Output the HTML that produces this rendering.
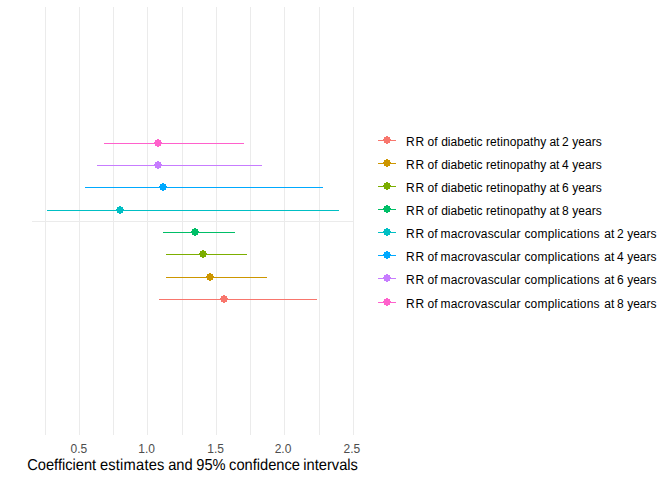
<!DOCTYPE html>
<html><head><meta charset="utf-8"><style>
html,body{margin:0;padding:0;background:#fff;width:672px;height:480px;overflow:hidden}
svg{position:absolute;left:0;top:0}
text{font-family:"Liberation Sans",sans-serif}
</style></head><body>
<svg width="672" height="480" viewBox="0 0 672 480">
<g shape-rendering="crispEdges">
<g fill="#EBEBEB"><rect x="45" y="7" width="1" height="428"/><rect x="79" y="7" width="1" height="428"/><rect x="113" y="7" width="1" height="428"/><rect x="147" y="7" width="1" height="428"/><rect x="182" y="7" width="1" height="428"/><rect x="216" y="7" width="1" height="428"/><rect x="250" y="7" width="1" height="428"/><rect x="284" y="7" width="1" height="428"/><rect x="319" y="7" width="1" height="428"/><rect x="353" y="7" width="1" height="428"/><rect x="32" y="221" width="322" height="1"/></g><rect x="104" y="143" width="140" height="1" fill="#FF61CC"/><g fill="#FF61CC"><rect x="157" y="139" width="2" height="1"/><rect x="155" y="140" width="6" height="6"/><rect x="154" y="142" width="8" height="2"/><rect x="157" y="146" width="2" height="1"/></g><rect x="97" y="165" width="165" height="1" fill="#C77CFF"/><g fill="#C77CFF"><rect x="157" y="161" width="2" height="1"/><rect x="155" y="162" width="6" height="6"/><rect x="154" y="164" width="8" height="2"/><rect x="157" y="168" width="2" height="1"/></g><rect x="85" y="187" width="238" height="1" fill="#00A9FF"/><g fill="#00A9FF"><rect x="162" y="183" width="2" height="1"/><rect x="160" y="184" width="6" height="6"/><rect x="159" y="186" width="8" height="2"/><rect x="162" y="190" width="2" height="1"/></g><rect x="47" y="210" width="292" height="1" fill="#00BFC4"/><g fill="#00BFC4"><rect x="119" y="206" width="2" height="1"/><rect x="117" y="207" width="6" height="6"/><rect x="116" y="209" width="8" height="2"/><rect x="119" y="213" width="2" height="1"/></g><rect x="163" y="232" width="72" height="1" fill="#00BE67"/><g fill="#00BE67"><rect x="194" y="228" width="2" height="1"/><rect x="192" y="229" width="6" height="6"/><rect x="191" y="231" width="8" height="2"/><rect x="194" y="235" width="2" height="1"/></g><rect x="166" y="254" width="81" height="1" fill="#7CAE00"/><g fill="#7CAE00"><rect x="202" y="250" width="2" height="1"/><rect x="200" y="251" width="6" height="6"/><rect x="199" y="253" width="8" height="2"/><rect x="202" y="257" width="2" height="1"/></g><rect x="166" y="277" width="101" height="1" fill="#CD9600"/><g fill="#CD9600"><rect x="209" y="273" width="2" height="1"/><rect x="207" y="274" width="6" height="6"/><rect x="206" y="276" width="8" height="2"/><rect x="209" y="280" width="2" height="1"/></g><rect x="159" y="299" width="158" height="1" fill="#F8766D"/><g fill="#F8766D"><rect x="223" y="295" width="2" height="1"/><rect x="221" y="296" width="6" height="6"/><rect x="220" y="298" width="8" height="2"/><rect x="223" y="302" width="2" height="1"/></g><rect x="378" y="140" width="18" height="1" fill="#F8766D"/><g fill="#F8766D"><rect x="386" y="136" width="2" height="1"/><rect x="384" y="137" width="6" height="6"/><rect x="383" y="139" width="8" height="2"/><rect x="386" y="143" width="2" height="1"/></g><rect x="378" y="163" width="18" height="1" fill="#CD9600"/><g fill="#CD9600"><rect x="386" y="159" width="2" height="1"/><rect x="384" y="160" width="6" height="6"/><rect x="383" y="162" width="8" height="2"/><rect x="386" y="166" width="2" height="1"/></g><rect x="378" y="186" width="18" height="1" fill="#7CAE00"/><g fill="#7CAE00"><rect x="386" y="182" width="2" height="1"/><rect x="384" y="183" width="6" height="6"/><rect x="383" y="185" width="8" height="2"/><rect x="386" y="189" width="2" height="1"/></g><rect x="378" y="209" width="18" height="1" fill="#00BE67"/><g fill="#00BE67"><rect x="386" y="205" width="2" height="1"/><rect x="384" y="206" width="6" height="6"/><rect x="383" y="208" width="8" height="2"/><rect x="386" y="212" width="2" height="1"/></g><rect x="378" y="232" width="18" height="1" fill="#00BFC4"/><g fill="#00BFC4"><rect x="386" y="228" width="2" height="1"/><rect x="384" y="229" width="6" height="6"/><rect x="383" y="231" width="8" height="2"/><rect x="386" y="235" width="2" height="1"/></g><rect x="378" y="255" width="18" height="1" fill="#00A9FF"/><g fill="#00A9FF"><rect x="386" y="251" width="2" height="1"/><rect x="384" y="252" width="6" height="6"/><rect x="383" y="254" width="8" height="2"/><rect x="386" y="258" width="2" height="1"/></g><rect x="378" y="278" width="18" height="1" fill="#C77CFF"/><g fill="#C77CFF"><rect x="386" y="274" width="2" height="1"/><rect x="384" y="275" width="6" height="6"/><rect x="383" y="277" width="8" height="2"/><rect x="386" y="281" width="2" height="1"/></g><rect x="378" y="302" width="18" height="1" fill="#FF61CC"/><g fill="#FF61CC"><rect x="386" y="298" width="2" height="1"/><rect x="384" y="299" width="6" height="6"/><rect x="383" y="301" width="8" height="2"/><rect x="386" y="305" width="2" height="1"/></g>
</g>
<text y="146" font-size="12" fill="#000"><tspan x="406.0" textLength="18.2" lengthAdjust="spacing">RR</tspan><tspan x="427.5">of</tspan><tspan x="441.2">diabetic</tspan><tspan x="486.0" textLength="60.2" lengthAdjust="spacing">retinopathy</tspan><tspan x="549.4">at</tspan><tspan x="562.1">2</tspan><tspan x="572.3">years</tspan></text><text y="169" font-size="12" fill="#000"><tspan x="406.0" textLength="18.2" lengthAdjust="spacing">RR</tspan><tspan x="427.5">of</tspan><tspan x="441.2">diabetic</tspan><tspan x="486.0" textLength="60.2" lengthAdjust="spacing">retinopathy</tspan><tspan x="549.4">at</tspan><tspan x="562.1">4</tspan><tspan x="572.3">years</tspan></text><text y="192" font-size="12" fill="#000"><tspan x="406.0" textLength="18.2" lengthAdjust="spacing">RR</tspan><tspan x="427.5">of</tspan><tspan x="441.2">diabetic</tspan><tspan x="486.0" textLength="60.2" lengthAdjust="spacing">retinopathy</tspan><tspan x="549.4">at</tspan><tspan x="562.1">6</tspan><tspan x="572.3">years</tspan></text><text y="215" font-size="12" fill="#000"><tspan x="406.0" textLength="18.2" lengthAdjust="spacing">RR</tspan><tspan x="427.5">of</tspan><tspan x="441.2">diabetic</tspan><tspan x="486.0" textLength="60.2" lengthAdjust="spacing">retinopathy</tspan><tspan x="549.4">at</tspan><tspan x="562.1">8</tspan><tspan x="572.3">years</tspan></text><text y="238" font-size="12" fill="#000"><tspan x="406.0" textLength="18.2" lengthAdjust="spacing">RR</tspan><tspan x="427.5">of</tspan><tspan x="440.5" textLength="80.0" lengthAdjust="spacing">macrovascular</tspan><tspan x="524.4" textLength="75.2" lengthAdjust="spacing">complications</tspan><tspan x="604.3">at</tspan><tspan x="616.9">2</tspan><tspan x="627.2">years</tspan></text><text y="261" font-size="12" fill="#000"><tspan x="406.0" textLength="18.2" lengthAdjust="spacing">RR</tspan><tspan x="427.5">of</tspan><tspan x="440.5" textLength="80.0" lengthAdjust="spacing">macrovascular</tspan><tspan x="524.4" textLength="75.2" lengthAdjust="spacing">complications</tspan><tspan x="604.3">at</tspan><tspan x="616.9">4</tspan><tspan x="627.2">years</tspan></text><text y="284" font-size="12" fill="#000"><tspan x="406.0" textLength="18.2" lengthAdjust="spacing">RR</tspan><tspan x="427.5">of</tspan><tspan x="440.5" textLength="80.0" lengthAdjust="spacing">macrovascular</tspan><tspan x="524.4" textLength="75.2" lengthAdjust="spacing">complications</tspan><tspan x="604.3">at</tspan><tspan x="616.9">6</tspan><tspan x="627.2">years</tspan></text><text y="308" font-size="12" fill="#000"><tspan x="406.0" textLength="18.2" lengthAdjust="spacing">RR</tspan><tspan x="427.5">of</tspan><tspan x="440.5" textLength="80.0" lengthAdjust="spacing">macrovascular</tspan><tspan x="524.4" textLength="75.2" lengthAdjust="spacing">complications</tspan><tspan x="604.3">at</tspan><tspan x="616.9">8</tspan><tspan x="627.2">years</tspan></text><text x="70.6" y="453" font-size="12" fill="#4D4D4D">0.5</text><text x="138.3" y="453" font-size="12" fill="#4D4D4D">1.0</text><text x="207.3" y="453" font-size="12" fill="#4D4D4D">1.5</text><text x="274.7" y="453" font-size="12" fill="#4D4D4D">2.0</text><text x="343.6" y="453" font-size="12" fill="#4D4D4D">2.5</text><text y="470" font-size="14.67" fill="#000" text-rendering="geometricPrecision" transform="translate(0 470) scale(1 1.08) translate(0 -470)"><tspan x="27.2">Coefficient</tspan><tspan x="99.9" textLength="64.5" lengthAdjust="spacing">estimates</tspan><tspan x="168.2">and</tspan><tspan x="196.3">95%</tspan><tspan x="229.1">confidence</tspan><tspan x="303.3">intervals</tspan></text>
</svg>
</body></html>
